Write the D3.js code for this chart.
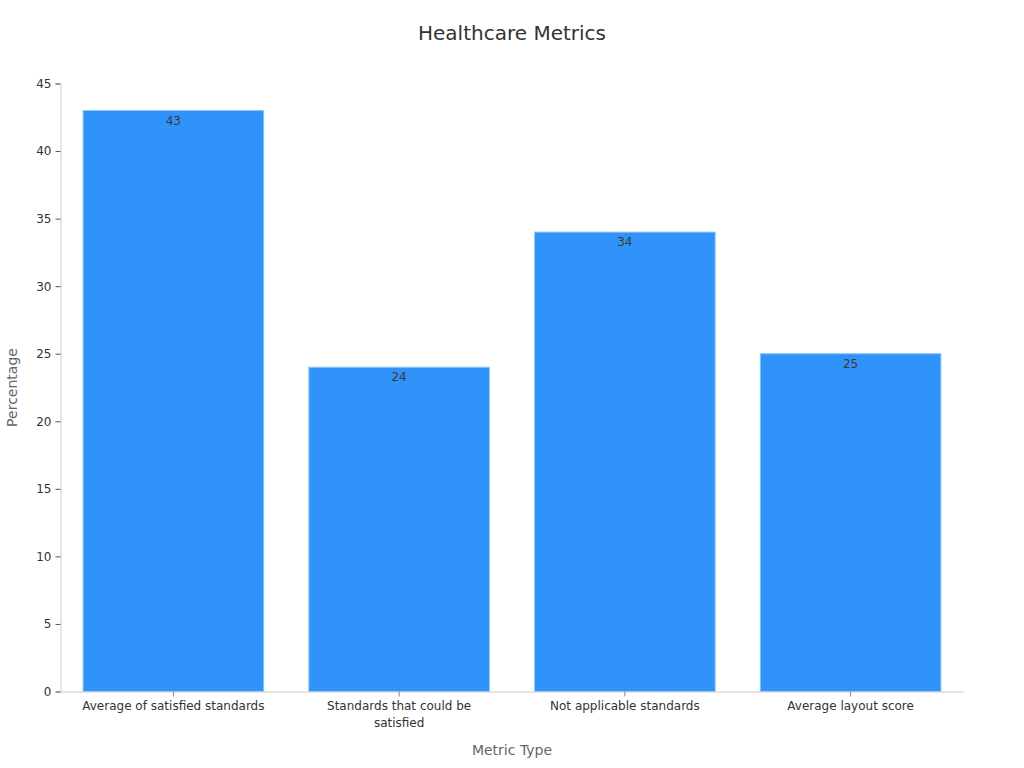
<!DOCTYPE html>
<html>
<head>
<meta charset="utf-8">
<script src="https://cdn.jsdelivr.net/npm/d3@7"></script>
<style>
  body { margin: 0; background: #fff; }
  svg { font-family: "DejaVu Sans", sans-serif; }
</style>
</head>
<body>
<svg id="chart" width="1024" height="768"></svg>
<script>
const categories = [
  'Average of satisfied standards',
  'Standards that could be satisfied',
  'Not applicable standards',
  'Average layout score'
];
const values = [43, 24, 34, 25];
const yTicks = [0, 5, 10, 15, 20, 25, 30, 35, 40, 45];

const svg = d3.select('#chart');
const margin = { top: 83.5, right: 60.5, bottom: 76.5, left: 60.5 };
const width = 1024 - margin.left - margin.right;
const height = 768 - margin.top - margin.bottom;

const g = svg.append('g')
  .attr('transform', `translate(${margin.left},${margin.top})`);

const x = d3.scaleBand()
  .domain(categories)
  .range([0, width])
  .paddingInner(0.2)
  .paddingOuter(0.1);

const y = d3.scaleLinear()
  .domain([0, 45])
  .range([height, 0]);

// bars
g.selectAll('rect.bar')
  .data(values)
  .join('rect')
  .attr('class', 'bar')
  .attr('x', (d, i) => x(categories[i]))
  .attr('y', d => y(d))
  .attr('width', x.bandwidth())
  .attr('height', d => height - y(d))
  .attr('fill', '#2f93f9')
  .attr('stroke', '#8cc4fb')
  .attr('stroke-width', 1);

// value labels
g.selectAll('text.val')
  .data(values)
  .join('text')
  .attr('class', 'val')
  .attr('x', (d, i) => x(categories[i]) + x.bandwidth() / 2)
  .attr('y', d => y(d) + 14)
  .attr('text-anchor', 'middle')
  .attr('font-size', 12)
  .attr('fill', '#3a3a3a')
  .text(d => d);

// y axis
const yAxis = g.append('g')
  .call(d3.axisLeft(y).tickValues(yTicks).tickSize(5).tickPadding(4));
yAxis.select('.domain').attr('stroke', '#ccc');
yAxis.selectAll('.tick line').attr('stroke', '#555');
yAxis.selectAll('.tick text').attr('font-size', 12).attr('fill', '#333')
  .attr('font-family', '"DejaVu Sans", sans-serif');

// x axis
const xAxis = g.append('g')
  .attr('transform', `translate(0,${height})`)
  .call(d3.axisBottom(x).tickSize(5).tickPadding(5).tickSizeOuter(0));
xAxis.select('.domain').attr('stroke', '#ccc');
xAxis.selectAll('.tick line').attr('stroke', '#888');
xAxis.selectAll('.tick text')
  .attr('font-size', 12)
  .attr('fill', '#333')
  .attr('font-family', '"DejaVu Sans", sans-serif')
  .call(wrap, 190);

function wrap(texts, w) {
  texts.each(function() {
    const text = d3.select(this);
    const words = text.text().split(/\s+/);
    const yy = text.attr('y');
    const dy = parseFloat(text.attr('dy'));
    text.text(null);
    let line = [];
    let lineNo = 0;
    let tspan = text.append('tspan').attr('x', 0).attr('y', yy).attr('dy', dy + 'em');
    words.forEach(word => {
      line.push(word);
      tspan.text(line.join(' '));
      if (tspan.node().getComputedTextLength() > w && line.length > 1) {
        line.pop();
        tspan.text(line.join(' '));
        line = [word];
        lineNo++;
        tspan = text.append('tspan').attr('x', 0).attr('y', yy)
          .attr('dy', (lineNo * 1.45 + dy) + 'em').text(word);
      }
    });
  });
}

// title
svg.append('text')
  .attr('x', 512)
  .attr('y', 40)
  .attr('text-anchor', 'middle')
  .attr('font-size', 20)
  .attr('fill', '#333')
  .text('Healthcare Metrics');

// axis titles
svg.append('text')
  .attr('x', margin.left + width / 2)
  .attr('y', 755)
  .attr('text-anchor', 'middle')
  .attr('font-size', 14)
  .attr('fill', '#666')
  .text('Metric Type');

svg.append('text')
  .attr('transform', `translate(17,${margin.top + height / 2}) rotate(-90)`)
  .attr('text-anchor', 'middle')
  .attr('font-size', 14)
  .attr('fill', '#666')
  .text('Percentage');
</script>
</body>
</html>
